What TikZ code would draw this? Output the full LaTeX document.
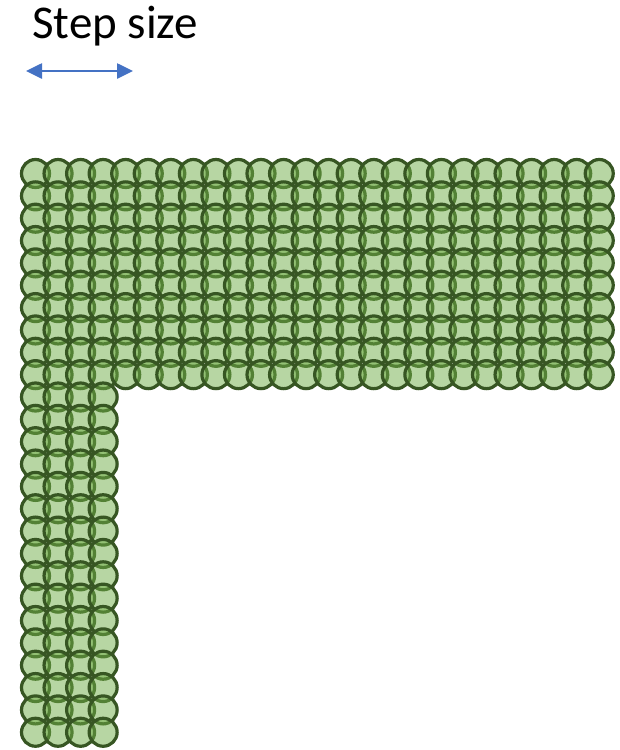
\documentclass[tikz,border=0pt]{standalone}
\usepackage{fontspec}
\setmainfont{Carlito}
\usepackage{tikz}
\usetikzlibrary{arrows.meta, positioning, calc}

\definecolor{dotfill}{HTML}{70AD47}
\definecolor{dotline}{HTML}{375623}
\definecolor{stepblue}{HTML}{4472C4}

\begin{document}
\begin{tikzpicture}[x=1pt, y=-1pt]
    \useasboundingbox (0,0) rectangle (620,750);
    % One probe circle per grid point
    \tikzset{probe/.style={draw=dotline, line width=3.2pt, fill=dotfill, fill opacity=0.5}}

    % Label and the arrow for the step
    \node[anchor=base west, inner sep=0pt, font=\fontsize{47}{52}\selectfont] (lbl) at (32,38) {Step size};
    \coordinate (L) at (26,71);
    \coordinate (R) at (133,71);
    \draw[stepblue, line width=2.6pt, {Triangle[length=16pt, width=15pt]}-{Triangle[length=16pt, width=15pt]}] (L) -- (R);

    % Top band: 26 columns, 10 rows
    \foreach \j in {0,...,9}
        \foreach \i in {0,...,25}
            \draw[probe] (35.5+22.55*\i, 173.5+22.35*\j) circle (14);

    % Left leg: 4 columns, 16 rows
    \foreach \j in {10,...,25}
        \foreach \i in {0,...,3}
            \draw[probe] (35.5+22.55*\i, 173.5+22.35*\j) circle (14);
\end{tikzpicture}
\end{document}
